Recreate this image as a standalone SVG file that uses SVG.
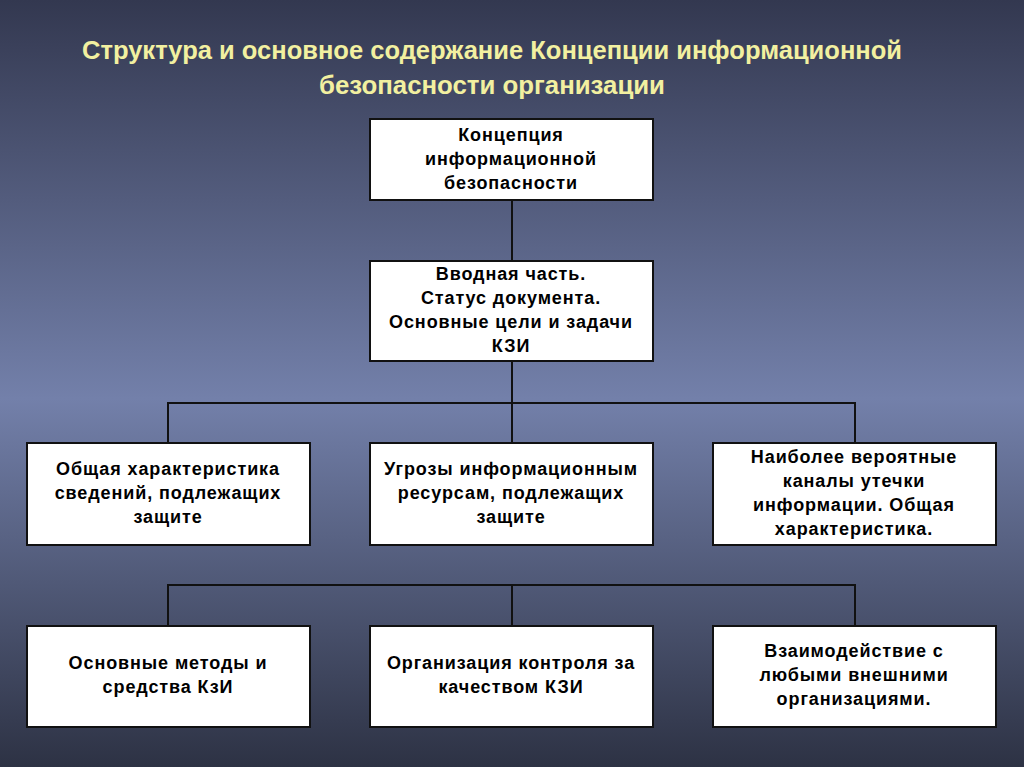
<svg xmlns="http://www.w3.org/2000/svg" width="1024" height="767" viewBox="0 0 1024 767">
  <defs>
    <linearGradient id="bg" x1="0" y1="0" x2="0" y2="1">
      <stop offset="0" stop-color="#333850"/>
      <stop offset="0.52" stop-color="#7380aa"/>
      <stop offset="1" stop-color="#2d3244"/>
    </linearGradient>
  </defs>
  <style>
    .box { fill: #ffffff; stroke: #111111; stroke-width: 2; }
    .t { font-family: "Liberation Sans", Arial, sans-serif; font-weight: bold; font-size: 18px; letter-spacing: 0.9px; fill: #000000; text-anchor: middle; }
    .title { font-family: "Liberation Sans Narrow", "Liberation Sans", Arial, sans-serif; font-weight: bold; font-size: 25px; fill: #f2f0a0; text-anchor: middle; }
    .c { stroke: #111111; stroke-width: 2; fill: none; }
  </style>
  <rect x="0" y="0" width="1024" height="767" fill="url(#bg)"/>
  <g id="title">
    <text class="title" x="492" y="59" textLength="820" lengthAdjust="spacingAndGlyphs">Структура и основное содержание Концепции информационной</text>
    <text class="title" x="492" y="94" textLength="346" lengthAdjust="spacingAndGlyphs">безопасности организации</text>
  </g>
  <g id="connectors">
    <line class="c" x1="512" y1="200" x2="512" y2="261"/>
    <line class="c" x1="512" y1="361" x2="512" y2="443"/>
    <polyline class="c" points="168,443 168,403 855,403 855,443"/>
    <polyline class="c" points="168,626 168,585 855,585 855,626"/>
    <line class="c" x1="512" y1="585" x2="512" y2="626"/>
  </g>
  <g id="n-concept">
    <rect class="box" x="370" y="119" width="283" height="81"/>
    <text class="t" x="511" y="141">Концепция</text>
    <text class="t" x="511" y="165">информационной</text>
    <text class="t" x="511" y="189">безопасности</text>
  </g>
  <g id="n-intro">
    <rect class="box" x="370" y="261" width="283" height="100"/>
    <text class="t" x="511" y="280">Вводная часть.</text>
    <text class="t" x="511" y="304">Статус документа.</text>
    <text class="t" x="511" y="328">Основные цели и задачи</text>
    <text class="t" x="511" y="352">КЗИ</text>
  </g>
  <g id="n-general">
    <rect class="box" x="27" y="443" width="283" height="102"/>
    <text class="t" x="168" y="475">Общая характеристика</text>
    <text class="t" x="168" y="499">сведений, подлежащих</text>
    <text class="t" x="168" y="523">защите</text>
  </g>
  <g id="n-threats">
    <rect class="box" x="370" y="443" width="283" height="102"/>
    <text class="t" x="511" y="475">Угрозы информационным</text>
    <text class="t" x="511" y="499">ресурсам, подлежащих</text>
    <text class="t" x="511" y="523">защите</text>
  </g>
  <g id="n-channels">
    <rect class="box" x="713" y="443" width="283" height="102"/>
    <text class="t" x="854" y="463">Наиболее вероятные</text>
    <text class="t" x="854" y="487">каналы утечки</text>
    <text class="t" x="854" y="511">информации. Общая</text>
    <text class="t" x="854" y="535">характеристика.</text>
  </g>
  <g id="n-methods">
    <rect class="box" x="27" y="626" width="283" height="101"/>
    <text class="t" x="168" y="669">Основные методы и</text>
    <text class="t" x="168" y="693">средства КзИ</text>
  </g>
  <g id="n-control">
    <rect class="box" x="370" y="626" width="283" height="101"/>
    <text class="t" x="511" y="669">Организация контроля за</text>
    <text class="t" x="511" y="693">качеством КЗИ</text>
  </g>
  <g id="n-interaction">
    <rect class="box" x="713" y="626" width="283" height="101"/>
    <text class="t" x="854" y="657">Взаимодействие с</text>
    <text class="t" x="854" y="681">любыми внешними</text>
    <text class="t" x="854" y="705">организациями.</text>
  </g>
</svg>
